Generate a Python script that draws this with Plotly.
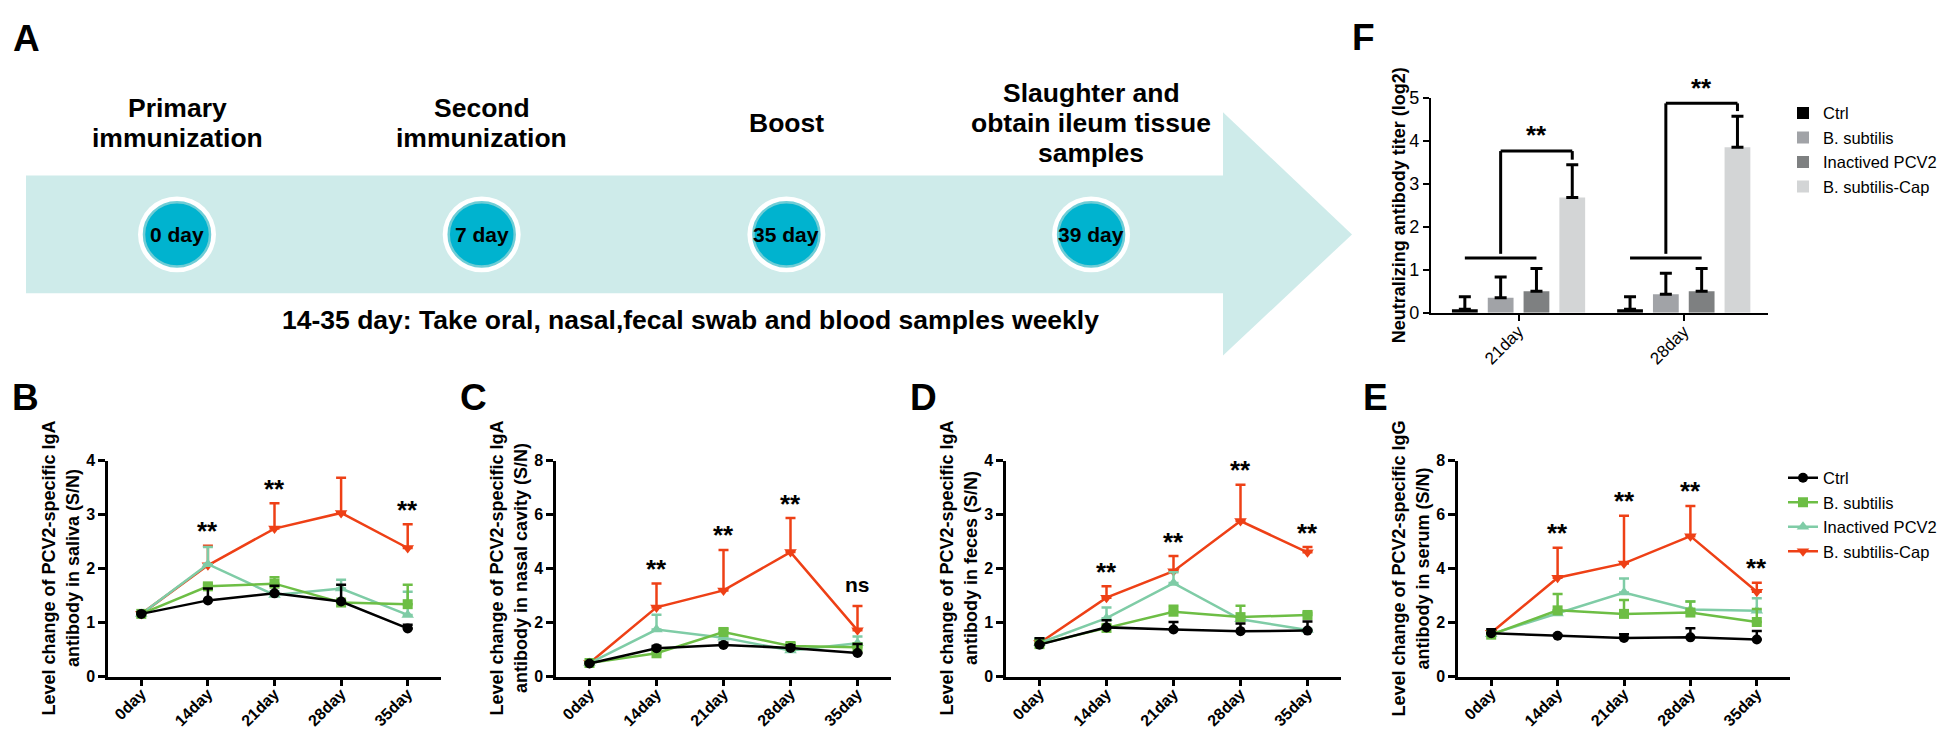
import plotly.graph_objects as go

W, H = 1946, 732
FONT = "Liberation Sans, Arial, Helvetica, sans-serif"

# ---------------- data ----------------
days = ["0day", "14day", "21day", "28day", "35day"]
groups = ["Ctrl", "B. subtilis", "Inactived PCV2", "B. subtilis-Cap"]

# B: IgA in saliva
saliva_ctrl = [1.16, 1.41, 1.54, 1.39, 0.89]
saliva_ctrl_err = [0.03, 0.22, 0.14, 0.31, 0.07]
saliva_bsub = [1.16, 1.67, 1.72, 1.37, 1.34]
saliva_bsub_err = [0.02, 0.05, 0.12, 0.03, 0.36]
saliva_inact = [1.16, 2.08, 1.51, 1.63, 1.14]
saliva_inact_err = [0.02, 0.32, 0.07, 0.16, 0.43]
saliva_cap = [1.16, 2.06, 2.74, 3.03, 2.38]
saliva_cap_err = [0.02, 0.36, 0.47, 0.65, 0.44]
saliva_sig = ["", "**", "**", "**", "**"]

# C: IgA in nasal cavity
nasal_ctrl = [0.48, 1.05, 1.17, 1.06, 0.87]
nasal_ctrl_err = [0.05, 0.08, 0.08, 0.10, 0.33]
nasal_bsub = [0.50, 0.86, 1.65, 1.13, 1.08]
nasal_bsub_err = [0.03, 0.06, 0.12, 0.10, 0.10]
nasal_inact = [0.50, 1.74, 1.44, 0.96, 1.23]
nasal_inact_err = [0.03, 0.55, 0.15, 0.10, 0.25]
nasal_cap = [0.50, 2.56, 3.19, 4.61, 1.71]
nasal_cap_err = [0.03, 0.89, 1.50, 1.26, 0.90]
nasal_sig = ["", "**", "**", "**", "ns"]

# D: IgA in feces
feces_ctrl = [0.59, 0.91, 0.87, 0.84, 0.85]
feces_ctrl_err = [0.12, 0.13, 0.14, 0.14, 0.17]
feces_bsub = [0.60, 0.90, 1.20, 1.10, 1.14]
feces_bsub_err = [0.10, 0.05, 0.11, 0.21, 0.04]
feces_inact = [0.62, 1.08, 1.73, 1.06, 0.86]
feces_inact_err = [0.08, 0.20, 0.20, 0.05, 0.02]
feces_cap = [0.62, 1.46, 1.95, 2.88, 2.30]
feces_cap_err = [0.05, 0.21, 0.28, 0.67, 0.10]
feces_sig = ["", "**", "**", "**", "**"]

# E: IgG in serum
serum_ctrl = [1.60, 1.51, 1.43, 1.45, 1.37]
serum_ctrl_err = [0.15, 0.03, 0.14, 0.34, 0.32]
serum_bsub = [1.55, 2.45, 2.32, 2.37, 2.02]
serum_bsub_err = [0.05, 0.61, 0.51, 0.41, 0.48]
serum_inact = [1.57, 2.33, 3.11, 2.48, 2.44]
serum_inact_err = [0.05, 0.10, 0.52, 0.30, 0.46]
serum_cap = [1.62, 3.66, 4.19, 5.20, 3.14]
serum_cap_err = [0.05, 1.11, 1.77, 1.12, 0.33]
serum_sig = ["", "**", "**", "**", "**"]

# F: neutralizing antibody titer
f_days = ["21day", "28day"]
titer_ctrl = [0.08, 0.08]
titer_ctrl_err = [0.29, 0.29]
titer_bsub = [0.35, 0.43]
titer_bsub_err = [0.48, 0.49]
titer_inact = [0.50, 0.50]
titer_inact_err = [0.53, 0.53]
titer_cap = [2.68, 3.85]
titer_cap_err = [0.76, 0.72]
titer_bracket_low = [1.27, 1.27]
titer_bracket_top = [3.76, 4.87]
titer_sig = ["**", "**"]

# A: timeline
events = ["0 day", "7 day", "35 day", "39 day"]
event_titles = [["Primary", "immunization"], ["Second", "immunization"], ["Boost"],
                ["Slaughter and", "obtain ileum tissue", "samples"]]
sampling_note = "14-35 day: Take oral, nasal,fecal swab and blood samples weekly"

# ---------------- style ----------------
line_colors = ["#000000", "#6DBE45", "#7FCCA6", "#EE4016"]
line_symbols = ["circle", "square", "triangle-up", "triangle-down"]
line_sizes = [10, 10, 11, 11]
bar_colors = ["#000000", "#A1A3A7", "#7E8081", "#D3D5D6"]


def px(x):
    return x / W


def py(y):
    return 1 - y / H


line_panels = [
    dict(letter="B", x0=100, x1=433, ymax=4,
         title="Level change of PCV2-specific IgA<br>antibody in saliva (S/N)",
         series=[(saliva_ctrl, saliva_ctrl_err), (saliva_bsub, saliva_bsub_err),
                 (saliva_inact, saliva_inact_err), (saliva_cap, saliva_cap_err)],
         sig=saliva_sig),
    dict(letter="C", x0=548, x1=883, ymax=8,
         title="Level change of PCV2-specific IgA<br>antibody in nasal cavity (S/N)",
         series=[(nasal_ctrl, nasal_ctrl_err), (nasal_bsub, nasal_bsub_err),
                 (nasal_inact, nasal_inact_err), (nasal_cap, nasal_cap_err)],
         sig=nasal_sig),
    dict(letter="D", x0=998, x1=1333, ymax=4,
         title="Level change of PCV2-specific IgA<br>antibody in feces (S/N)",
         series=[(feces_ctrl, feces_ctrl_err), (feces_bsub, feces_bsub_err),
                 (feces_inact, feces_inact_err), (feces_cap, feces_cap_err)],
         sig=feces_sig),
    dict(letter="E", x0=1450, x1=1782, ymax=8,
         title="Level change of PCV2-specific IgG<br>antibody in serum (S/N)",
         series=[(serum_ctrl, serum_ctrl_err), (serum_bsub, serum_bsub_err),
                 (serum_inact, serum_inact_err), (serum_cap, serum_cap_err)],
         sig=serum_sig),
]
PLOT_TOP, PLOT_BOTTOM = 455, 677

fig = go.Figure()
annotations = []
shapes = []
layout_axes = {}

axis_common = dict(showline=True, linecolor="black", linewidth=2.5, ticks="outside",
                   ticklen=7, tickwidth=2.5, tickcolor="black", showgrid=False,
                   zeroline=False, fixedrange=True)

for k, p in enumerate(line_panels):
    sfx = "" if k == 0 else str(k + 1)
    xa, ya = "x" + sfx, "y" + sfx
    for gi in [3, 2, 1, 0]:
        vals, err = p["series"][gi]
        col = line_colors[gi]
        fig.add_trace(go.Scatter(
            x=days, y=vals, mode="lines+markers", name=groups[gi],
            xaxis=xa, yaxis=ya, showlegend=(k == 3), legendrank=gi + 1,
            line=dict(color=col, width=2.5),
            marker=dict(symbol=line_symbols[gi], size=line_sizes[gi], color=col, line=dict(width=0)),
            error_y=dict(type="data", array=err, arrayminus=[0] * len(err), symmetric=False,
                         color=col, thickness=2.5, width=5),
            cliponaxis=False,
        ))
    layout_axes["xaxis" + sfx] = dict(
        axis_common, domain=[px(p["x0"]), px(p["x1"])], anchor=ya, type="category",
        categoryorder="array", categoryarray=days, range=[-0.5, len(days) - 0.5],
        tickangle=-45, ticklabelstandoff=-8,
        tickfont=dict(family=FONT, size=16, color="black", weight="bold"))
    layout_axes["yaxis" + sfx] = dict(
        axis_common, domain=[py(PLOT_BOTTOM), py(PLOT_TOP)], anchor=xa,
        range=[0, p["ymax"]], dtick=p["ymax"] / 4,
        tickfont=dict(family=FONT, size=16, color="black", weight="bold"))
    # y title
    annotations.append(dict(
        text=p["title"], x=px(p["x0"] - 47), y=py((PLOT_TOP + PLOT_BOTTOM) / 2),
        xref="paper", yref="paper", showarrow=False, textangle=-90,
        xanchor="center", yanchor="middle",
        font=dict(family=FONT, size=18, color="black", weight="bold")))
    # panel letter
    annotations.append(dict(
        text=p["letter"], x=px(p["x0"] - 83), y=py(390), xref="paper", yref="paper",
        showarrow=False, xanchor="center", yanchor="middle",
        font=dict(family=FONT, size=37, color="black", weight="bold")))
    # significance labels above B. subtilis-Cap error bars
    cap_vals, cap_err = p["series"][3]
    for i, s in enumerate(p["sig"]):
        if not s:
            continue
        top = cap_vals[i] + cap_err[i] + 0.09 * p["ymax"]
        annotations.append(dict(
            text=s, x=days[i], y=top, xref=xa, yref=ya, showarrow=False,
            xanchor="center", yanchor="middle", yshift=(-5 if s == "**" else 2),
            font=dict(family=FONT, size=(26 if s == "**" else 21), color="black", weight="bold")))

# ---------------- F: bar chart ----------------
F_X0, F_X1, F_TOP, F_BOTTOM = 1423, 1760, 82, 303
f_range = [-0.53, 1.51]
f_ymax = 5
bargap, bargroupgap = 0.133, 0.28
bar_series = [(titer_ctrl, titer_ctrl_err), (titer_bsub, titer_bsub_err),
              (titer_inact, titer_inact_err), (titer_cap, titer_cap_err)]
for gi, (vals, err) in enumerate(bar_series):
    fig.add_trace(go.Bar(
        x=f_days, y=vals, name=groups[gi], xaxis="x5", yaxis="y5", legend="legend2",
        marker=dict(color=bar_colors[gi], line=dict(width=0)),
        error_y=dict(type="data", array=err, arrayminus=[0] * len(err), symmetric=False,
                     color="black", thickness=3, width=6),
    ))

layout_axes["xaxis5"] = dict(
    axis_common, linewidth=2.2, tickwidth=2, ticklen=6,
    domain=[px(F_X0), px(F_X1)], anchor="y5", type="category",
    categoryorder="array", categoryarray=f_days, range=f_range, tickangle=-45,
    ticklabelstandoff=-6,
    tickfont=dict(family=FONT, size=17, color="black"))
layout_axes["yaxis5"] = dict(
    axis_common, linewidth=2.2, tickwidth=2, ticklen=6,
    domain=[py(F_BOTTOM), py(F_TOP)], anchor="x5", range=[0, f_ymax], dtick=1,
    tickfont=dict(family=FONT, size=18, color="black"))

annotations.append(dict(
    text="Neutralizing antibody titer (log2)", x=px(1391), y=py((F_TOP + F_BOTTOM) / 2),
    xref="paper", yref="paper", showarrow=False, textangle=-90,
    xanchor="center", yanchor="middle",
    font=dict(family=FONT, size=18, color="black", weight="bold")))
annotations.append(dict(
    text="F", x=px(1355), y=py(20), xref="paper", yref="paper", showarrow=False,
    xanchor="center", yanchor="middle",
    font=dict(family=FONT, size=37, color="black", weight="bold")))

slot = (1 - bargap) / 4


def bar_center(ci, gi):
    return ci + (gi - 1.5) * slot


def fx(v):
    return (v - f_range[0]) / (f_range[1] - f_range[0])


def fy(v):
    return v / f_ymax


def dline(xa_, ya_, xb_, yb_):
    shapes.append(dict(type="line", xref="x5 domain", yref="y5 domain",
                       x0=fx(xa_), y0=fy(ya_), x1=fx(xb_), y1=fy(yb_),
                       line=dict(color="black", width=3), layer="above"))


for ci in range(len(f_days)):
    low, top = titer_bracket_low[ci], titer_bracket_top[ci]
    cap_top = titer_cap[ci] + titer_cap_err[ci]
    dline(bar_center(ci, 0), low, bar_center(ci, 2), low)
    dline(bar_center(ci, 1), low + 0.1, bar_center(ci, 1), top)
    dline(bar_center(ci, 1), top, bar_center(ci, 3), top)
    dline(bar_center(ci, 3), top, bar_center(ci, 3), cap_top + 0.12)
    annotations.append(dict(
        text=titer_sig[ci], x=fx(bar_center(ci, 2)), y=fy(top + 0.48),
        xref="x5 domain", yref="y5 domain", showarrow=False, yshift=-5,
        xanchor="center", yanchor="middle",
        font=dict(family=FONT, size=26, color="black", weight="bold")))

# ---------------- A: timeline diagram ----------------
BAND_COLOR = "#CEEBEA"
band_x0, band_x1, band_top, band_bottom = 18, 1216, 162, 283
head_top, head_bottom, tip_x = 97, 347, 1344
mid_y = (band_top + band_bottom) / 2
shapes.append(dict(type="rect", xref="paper", yref="paper",
                   x0=px(band_x0), x1=px(band_x1), y0=py(band_bottom), y1=py(band_top),
                   fillcolor=BAND_COLOR, line=dict(width=0), layer="below"))
shapes.append(dict(type="path", xref="paper", yref="paper",
                   path=f"M {px(band_x1 - 1)},{py(head_top)} L {px(tip_x)},{py(mid_y)} "
                        f"L {px(band_x1 - 1)},{py(head_bottom)} Z",
                   fillcolor=BAND_COLOR, line=dict(width=0), layer="below"))

ev_x0, ev_dx = 169, 304.7
for i, ev in enumerate(events):
    cx = ev_x0 + i * ev_dx
    shapes.append(dict(type="circle", xref="paper", yref="paper",
                       x0=px(cx - 39), x1=px(cx + 39), y0=py(mid_y + 39), y1=py(mid_y - 39),
                       fillcolor="white", line=dict(width=0), layer="below"))
    shapes.append(dict(type="circle", xref="paper", yref="paper",
                       x0=px(cx - 33), x1=px(cx + 33), y0=py(mid_y + 33), y1=py(mid_y - 33),
                       fillcolor="#00B3CF", line=dict(color="#6FCDD6", width=2.5), layer="below"))
    annotations.append(dict(
        text=ev, x=px(cx), y=py(mid_y), xref="paper", yref="paper", showarrow=False,
        xanchor="center", yanchor="middle",
        font=dict(family=FONT, size=21, color="black", weight="bold")))
    lines = event_titles[i]
    n = len(lines)
    for j, ln in enumerate(lines):
        ly = 108 + (j - (n - 1) / 2) * 31
        annotations.append(dict(
            text=ln, x=px(cx), y=py(ly), xref="paper", yref="paper", showarrow=False,
            xanchor="center", yanchor="middle",
            font=dict(family=FONT, size=26.5, color="black", weight="bold")))

annotations.append(dict(
    text=sampling_note, x=px(682), y=py(310), xref="paper", yref="paper", showarrow=False,
    xanchor="center", yanchor="middle",
    font=dict(family=FONT, size=26.5, color="black", weight="bold")))
annotations.append(dict(
    text="A", x=px(18), y=py(21), xref="paper", yref="paper", showarrow=False,
    xanchor="center", yanchor="middle",
    font=dict(family=FONT, size=37, color="black", weight="bold")))

fig.update_layout(
    width=W, height=H, margin=dict(l=0, r=0, t=0, b=0),
    paper_bgcolor="white", plot_bgcolor="rgba(0,0,0,0)",
    font=dict(family=FONT, color="black"),
    barmode="group", bargap=bargap, bargroupgap=bargroupgap,
    showlegend=True,
    legend=dict(x=px(1775), y=py(455), xanchor="left", yanchor="top",
                font=dict(family=FONT, size=16.5, color="black"), bgcolor="rgba(0,0,0,0)",
                itemwidth=30, tracegroupgap=0),
    legend2=dict(x=px(1775), y=py(80), xanchor="left", yanchor="top",
                 font=dict(family=FONT, size=16.5, color="black"), bgcolor="rgba(0,0,0,0)",
                 itemwidth=30, tracegroupgap=0),
    annotations=annotations, shapes=shapes,
    **layout_axes,
)

fig.write_html("out.html")
